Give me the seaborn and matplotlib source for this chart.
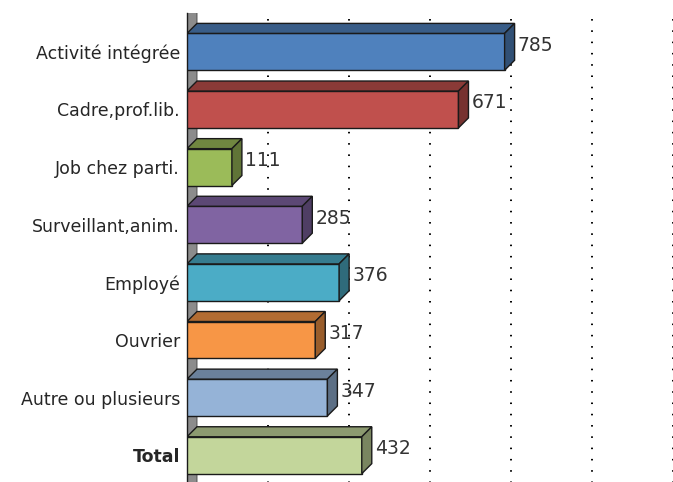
import numpy as np
import pandas as pd
import seaborn as sns
import matplotlib.pyplot as plt
from matplotlib.patches import Polygon
from matplotlib.colors import to_rgb

categories = ["Activité intégrée", "Cadre,prof.lib.", "Job chez parti.", "Surveillant,anim.",
              "Employé", "Ouvrier", "Autre ou plusieurs", "Total"]
values = [785, 671, 111, 285, 376, 317, 347, 432]
colors = ["#4F81BD", "#C0504D", "#9BBB59", "#8064A2", "#4BACC6", "#F79646", "#95B3D7", "#C3D69B"]
grid_ticks = [200, 400, 600, 800, 1000, 1200]

df = pd.DataFrame({"cat": categories, "val": values})

sns.set_theme(style="white")
plt.rcParams['font.family'] = ['DejaVu Sans']

W, H = 673, 482
fig = plt.figure(figsize=(W / 100, H / 100), dpi=100)
ax = fig.add_axes([187 / W, -2 / H, 485.5 / W, 471 / H])

bar_w = 0.64
sns.barplot(data=df, x="val", y="cat", hue="cat", palette=colors, orient="h",
            width=bar_w, legend=False, ax=ax, edgecolor="#1a1a1a", linewidth=1.0,
            saturation=1, zorder=3)

ax.set_xlim(0, 1200)
ax.set_ylim(7.5, -0.674)

# depth of the 3D look, in pixels -> data units
px_x = (ax.transData.transform((1, 0)) - ax.transData.transform((0, 0)))[0]
px_y = abs((ax.transData.transform((0, 1)) - ax.transData.transform((0, 0)))[1])
dx = 10 / px_x
dy = 10 / px_y


def shade(c, f):
    r, g, b = to_rgb(c)
    return (r * f, g * f, b * f)


# gray left wall
for i in range(len(categories) + 1):
    y0 = i - 0.5
    wall = Polygon([(0, y0 + 0.5), (0, y0 - 0.5), (dx, y0 - 0.5 - dy), (dx, y0 + 0.5 - dy)],
                   closed=True, facecolor="#8c8c8c", edgecolor="#404040", lw=0.6, zorder=1)
    ax.add_patch(wall)

for i, (v, c) in enumerate(zip(values, colors)):
    top = i - bar_w / 2
    bot = i + bar_w / 2
    top_face = Polygon([(0, top), (v, top), (v + dx, top - dy), (dx, top - dy)], closed=True,
                       facecolor=shade(c, 0.72), edgecolor="#1a1a1a", lw=1.0, zorder=3)
    side_face = Polygon([(v, top), (v + dx, top - dy), (v + dx, bot - dy), (v, bot)], closed=True,
                        facecolor=shade(c, 0.62), edgecolor="#1a1a1a", lw=1.0, zorder=3)
    ax.add_patch(top_face)
    ax.add_patch(side_face)
    ax.text(v + dx + 3 / px_x, i - dy * 0.65, f"{v}", ha="left", va="center",
            fontsize=13.5, color="#333333", zorder=4)

ax.set_xticks(grid_ticks)
ax.set_xticklabels([])
ax.xaxis.grid(True, color="black", linestyle=(0, (0.8, 5)), linewidth=1.4, zorder=0)
ax.yaxis.grid(False)
ax.tick_params(axis="both", length=0)
ax.tick_params(axis="y", pad=5, labelsize=12.5, labelcolor="#262626")
for lab in ax.get_yticklabels():
    if lab.get_text() == "Total":
        lab.set_fontweight("bold")
ax.set_xlabel("")
ax.set_ylabel("")
for s in ["top", "right", "bottom"]:
    ax.spines[s].set_visible(False)
ax.spines["left"].set_color("#1a1a1a")
ax.spines["left"].set_linewidth(1.0)
ax.set_axisbelow(True)

fig.savefig("out.png", dpi=100)
